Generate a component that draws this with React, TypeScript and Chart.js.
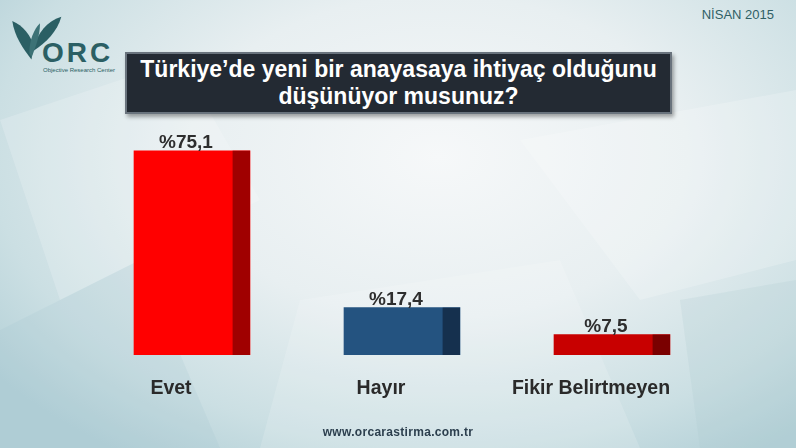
import React, { useEffect, useRef } from "react";
import { Chart, registerables } from "chart.js";

Chart.register(...registerables);

const categories = ["Evet", "Hayır", "Fikir Belirtmeyen"];
const values = [75.1, 17.4, 7.5];
const mainColors = ["#ff0000", "#245380", "#c80000"];
const darkColors = ["#a00000", "#15304e", "#7a0000"];
const titleLines = ["Türkiye’de yeni bir anayasaya ihtiyaç olduğunu", "düşünüyor musunuz?"];
const dateText = "NİSAN 2015";
const siteText = "www.orcarastirma.com.tr";

const FONT = '"Liberation Sans", Arial, Helvetica, sans-serif';

const barDecor = {
  id: "barDecor",
  afterDatasetsDraw(chart: any) {
    const ctx = chart.ctx;
    const meta = chart.getDatasetMeta(0);
    ctx.save();
    meta.data.forEach((bar: any, i: number) => {
      const { x, y, base, width } = bar.getProps(["x", "y", "base", "width"], true);
      const sw = width * 0.15;
      ctx.fillStyle = darkColors[i];
      ctx.fillRect(x + width / 2 - sw, y, sw, base - y);
      ctx.font = `bold 19px ${FONT}`;
      ctx.fillStyle = "#2e2e2e";
      ctx.textAlign = "center";
      ctx.textBaseline = "alphabetic";
      ctx.fillText("%" + values[i].toFixed(1).replace(".", ","), x - 6, y - 3);
    });
    ctx.restore();
  },
};

function Logo() {
  return (
    <div style={{ position: "absolute", left: 8, top: 10, width: 120, height: 62 }}>
      <svg width="64" height="54" viewBox="0 0 60 50" style={{ position: "absolute", left: 0, top: 0 }}>
        <path d="M22 46 C14 36 6 24 4 10 C14 14 22 24 24 34 Z" fill="#2b5f64" />
        <path d="M24 34 C28 22 36 10 50 6 C46 20 36 30 24 38 Z" fill="#2b5f64" />
        <path d="M20 40 C20 28 24 18 30 12 C30 24 26 34 22 44 Z" fill="#3c7276" />
      </svg>
      <div style={{ position: "absolute", left: 34, top: 27, font: `bold 28px ${FONT}`, color: "#2b5f64", letterSpacing: 3 }}>ORC</div>
      <div style={{ position: "absolute", left: 35, top: 57, font: `6px ${FONT}`, color: "#2b5f64", whiteSpace: "nowrap" }}>Objective Research Center</div>
    </div>
  );
}

export default function App() {
  const canvasRef = useRef<HTMLCanvasElement | null>(null);

  useEffect(() => {
    const canvas = canvasRef.current;
    if (!canvas) return;
    const chart = new Chart(canvas, {
      type: "bar",
      data: {
        labels: categories,
        datasets: [
          {
            data: values,
            backgroundColor: mainColors,
            borderWidth: 0,
            barThickness: 116,
          },
        ],
      },
      options: {
        responsive: false,
        animation: false,
        devicePixelRatio: 1,
        layout: { padding: { top: 83, left: 87, right: 79, bottom: 0 } },
        plugins: { legend: { display: false }, tooltip: { enabled: false }, title: { display: false } },
        scales: {
          y: { display: false, min: 0, max: 100 },
          x: {
            grid: { display: false },
            border: { display: false },
            afterFit: (axis: any) => {
              axis.height = 93;
            },
            ticks: {
              padding: 14,
              labelOffset: -21,
              color: "#2a2a2a",
              font: { family: FONT, size: 19.5, weight: "bold" },
              maxRotation: 0,
              autoSkip: false,
            },
          },
        },
      },
      plugins: [barDecor],
    });
    return () => chart.destroy();
  }, []);

  return (
    <div
      style={{
        position: "absolute",
        left: 0,
        top: 0,
        width: 796,
        height: 448,
        overflow: "hidden",
        background:
          "radial-gradient(ellipse 70% 80% at 55% 35%, #f6f8f9 0%, #e8eff1 45%, #cbdfe3 80%, #b3d0d7 100%)",
      }}
    >
      <svg width="796" height="448" style={{ position: "absolute", left: 0, top: 0 }}>
        <polygon points="0,120 180,60 260,200 60,300" fill="#ffffff" opacity="0.18" />
        <polygon points="520,140 796,90 796,260 640,300" fill="#ffffff" opacity="0.2" />
        <polygon points="300,300 560,260 640,448 260,448" fill="#ffffff" opacity="0.15" />
        <polygon points="0,330 140,260 220,448 0,448" fill="#9fc4cc" opacity="0.18" />
        <polygon points="680,300 796,280 796,448 700,448" fill="#a8c9cf" opacity="0.2" />
      </svg>
      <Logo />
      <div style={{ position: "absolute", right: 22, top: 7, font: `13px ${FONT}`, color: "#2f6065" }}>{dateText}</div>
      <div
        style={{
          position: "absolute",
          left: 125,
          top: 52,
          width: 543,
          height: 56,
          background: "#232a33",
          border: "2px solid #69737d",
          boxShadow: "2px 3px 4px rgba(0,0,0,0.35)",
          color: "#ffffff",
          font: `bold 23px ${FONT}`,
          lineHeight: "27px",
          textAlign: "center",
          paddingTop: 2,
          boxSizing: "content-box",
        }}
      >
        <div>{titleLines[0]}</div>
        <div>{titleLines[1]}</div>
      </div>
      <canvas ref={canvasRef} width={796} height={448} style={{ position: "absolute", left: 0, top: 0, width: 796, height: 448 }} />
      <div
        style={{
          position: "absolute",
          left: 0,
          width: 796,
          top: 425,
          textAlign: "center",
          font: `12px ${FONT}`,
          color: "#2c3f4e",
          letterSpacing: 0.3,
          fontWeight: 600,
        }}
      >
        {siteText}
      </div>
    </div>
  );
}
